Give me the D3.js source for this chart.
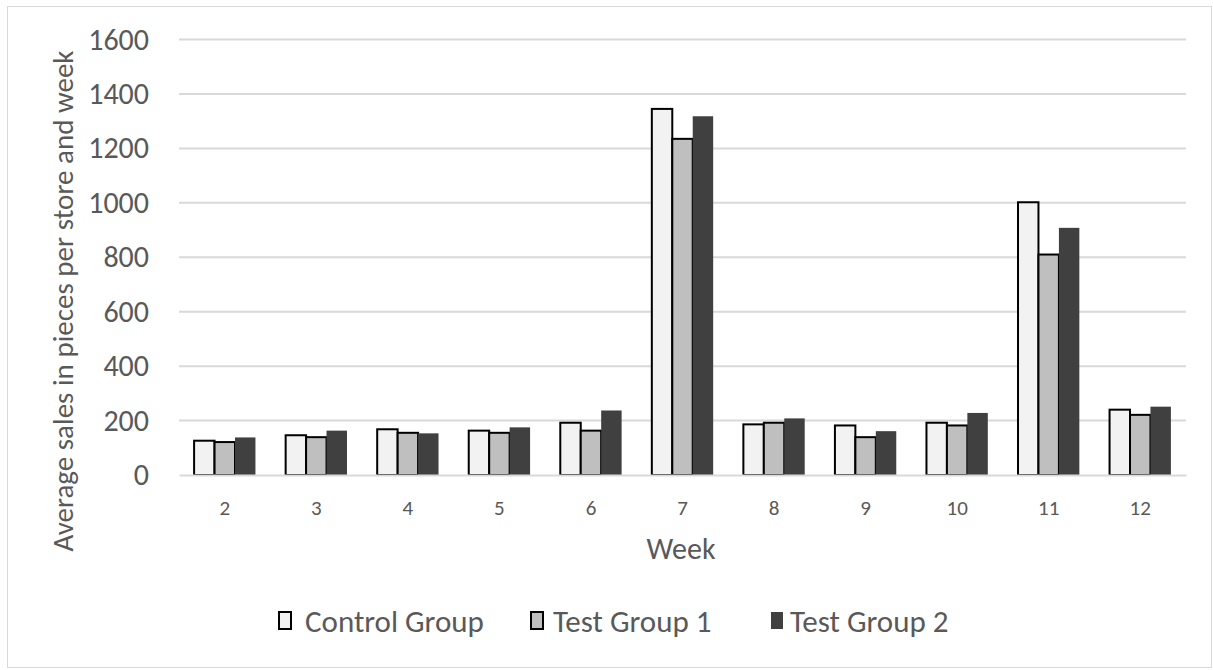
<!DOCTYPE html>
<html>
<head>
<meta charset="utf-8">
<script src="https://cdn.jsdelivr.net/npm/d3@7"></script>
<style>
  body { margin: 0; background: #fff; }
  text { font-family: Carlito, Lato, "Open Sans", sans-serif; fill: #595959; }
</style>
</head>
<body>
<div id="chart"></div>
<script>
var weeks   = ['2', '3', '4', '5', '6', '7', '8', '9', '10', '11', '12'],
    series  = ['Control Group', 'Test Group 1', 'Test Group 2'],
    control = [126, 146, 168, 163, 192, 1345, 186, 182, 192, 1002, 240],
    test1   = [121, 139, 155, 155, 163, 1235, 192, 139, 182, 810, 221],
    test2   = [138, 163, 153, 175, 237, 1318, 208, 161, 228, 908, 251],
    yTicks  = [0, 200, 400, 600, 800, 1000, 1200, 1400, 1600];

var fills   = ['#f2f2f2', '#bfbfbf', '#404040'],
    strokes = ['#000', '#000', 'none'];

var values = [control, test1, test2];
var rows = weeks.map(function(w, i) {
  return { week: w, vals: values.map(function(v, s) { return { s: s, v: v[i] }; }) };
});

var svg = d3.select('#chart')
            .append('svg')
            .attr('width', 1213)
            .attr('height', 670);

// outer frame
svg.append('rect')
   .attr('x', 7.5).attr('y', 6.5)
   .attr('width', 1204).attr('height', 661)
   .attr('fill', '#fff')
   .attr('stroke', '#d9d9d9');

var x0 = d3.scaleBand().domain(weeks).range([179, 1186]).padding(0),
    x1 = d3.scaleBand().domain(d3.range(series.length))
           .range([x0.bandwidth() * 0.165, x0.bandwidth() * 0.835]),
    y  = d3.scaleLinear().domain([0, 1600]).range([475, 39.5]);

// gridlines
svg.append('g')
   .selectAll('line')
   .data(yTicks.slice(1))
   .enter()
     .append('line')
     .attr('x1', 179).attr('x2', 1186)
     .attr('y1', function(d) { return y(d); })
     .attr('y2', function(d) { return y(d); })
     .attr('stroke', '#d9d9d9')
     .attr('stroke-width', 2);

// y axis labels
var yAxis = svg.append('g')
   .attr('transform', 'translate(149,0)')
   .call(d3.axisLeft(y).tickValues(yTicks).tickFormat(d3.format('d')).tickSize(0).tickPadding(0));
yAxis.select('.domain').remove();
yAxis.selectAll('text')
     .style('font-size', '30px')
     .attr('fill', '#595959');

// bars
var groups = svg.append('g')
   .selectAll('.grp')
   .data(rows)
   .enter()
     .append('g')
     .attr('class', 'grp')
     .attr('transform', function(d) { return 'translate(' + x0(d.week) + ',0)'; });

groups.selectAll('rect')
   .data(function(d) { return d.vals; })
   .enter()
     .append('rect')
     .attr('x', function(d) { return x1(d.s); })
     .attr('y', function(d) { return y(d.v); })
     .attr('width', x1.bandwidth())
     .attr('height', function(d) { return y(0) - y(d.v); })
     .attr('fill', function(d) { return fills[d.s]; })
     .attr('stroke', function(d) { return strokes[d.s]; })
     .attr('stroke-width', 2);

// x axis
var xAxis = svg.append('g')
   .attr('transform', 'translate(0,' + y(0) + ')')
   .call(d3.axisBottom(x0).tickSize(0).tickPadding(0));
xAxis.select('.domain')
     .attr('stroke', '#d9d9d9')
     .attr('stroke-width', 2);
xAxis.selectAll('text')
     .attr('dy', null)
     .attr('y', 40)
     .style('font-size', '21px')
     .attr('fill', '#595959');

// axis titles
svg.append('text')
   .attr('x', 681).attr('y', 559)
   .attr('text-anchor', 'middle')
   .style('font-size', '30px')
   .text('Week');

svg.append('text')
   .attr('transform', 'translate(73,301) rotate(-90)')
   .attr('text-anchor', 'middle')
   .style('font-size', '29px')
   .text('Average sales in pieces per store and week');

// legend
var legendX = [279, 531, 771],
    legendTextX = [305, 553, 790];
var legend = svg.append('g')
   .selectAll('.leg')
   .data(series)
   .enter()
     .append('g')
     .attr('class', 'leg')
     .attr('transform', function(d, i) { return 'translate(' + legendX[i] + ',612)'; });

legend.append('rect')
      .attr('width', 12).attr('height', 17)
      .attr('fill', function(d, i) { return fills[i]; })
      .attr('stroke', function(d, i) { return strokes[i]; })
      .attr('stroke-width', 2);

legend.append('text')
      .attr('x', function(d, i) { return legendTextX[i] - legendX[i]; })
      .attr('y', 20)
      .style('font-size', '31px')
      .text(function(d) { return d; });
</script>
</body>
</html>
